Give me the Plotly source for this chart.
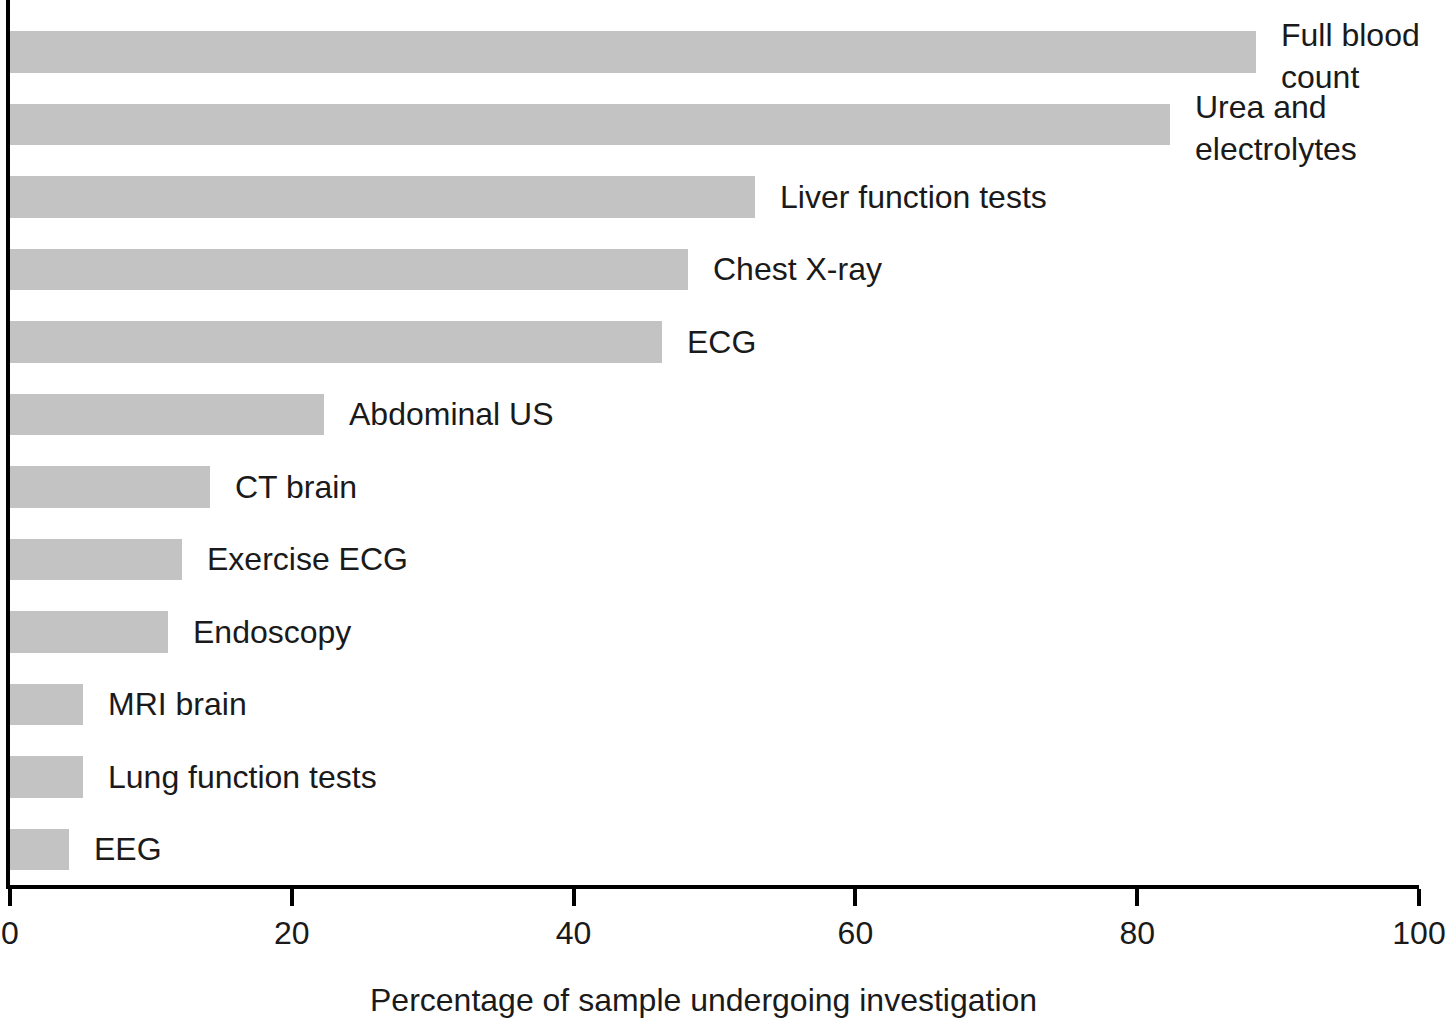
import plotly.graph_objects as go

# Data (bottom to top)
categories = ["EEG", "Lung function tests", "MRI brain", "Endoscopy", "Exercise ECG",
              "CT brain", "Abdominal US", "ECG", "Chest X-ray", "Liver function tests",
              "Urea and electrolytes", "Full blood count"]
labels = ["EEG", "Lung function tests", "MRI brain", "Endoscopy", "Exercise ECG",
          "CT brain", "Abdominal US", "ECG", "Chest X-ray", "Liver function tests",
          "Urea and<br>electrolytes", "Full blood<br>count"]
values = [4.2, 5.2, 5.2, 11.2, 12.2, 14.2, 22.3, 46.3, 48.1, 52.9, 82.3, 88.4]
x_ticks = [0, 20, 40, 60, 80, 100]
x_title = "Percentage of sample undergoing investigation"

FONT = "Liberation Sans, Arial, Helvetica, sans-serif"
FS = 32

fig = go.Figure()
fig.add_trace(go.Bar(
    x=values, y=categories, orientation="h",
    marker=dict(color="#c3c3c3", line=dict(width=0)),
    width=0.57, hoverinfo="x+y",
))

annotations = []
for c, v, lab in zip(categories, values, labels):
    multi = "<br>" in lab
    annotations.append(dict(
        x=v, y=c, xref="x", yref="y", text=lab, showarrow=False,
        xanchor="left", yanchor="middle", xshift=23, yshift=-4 if multi else 0,
        align="left",
        font=dict(family=FONT, size=FS, color="#1a1a1a"),
    ))
annotations.append(dict(
    x=49.2, y=-0.13, xref="x", yref="paper", text=x_title, showarrow=False,
    xanchor="center", yanchor="middle",
    font=dict(family=FONT, size=FS, color="#1a1a1a"),
))

fig.update_layout(
    width=1447, height=1019,
    margin=dict(l=10, r=28, t=0, b=134, pad=0),
    paper_bgcolor="white", plot_bgcolor="white",
    showlegend=False,
    bargap=0,
    annotations=annotations,
    font=dict(family=FONT, size=FS, color="#1a1a1a"),
    xaxis=dict(
        range=[0, 100], tickvals=x_ticks, ticktext=[str(t) for t in x_ticks],
        showline=True, linewidth=4, linecolor="black",
        ticks="outside", ticklen=17, tickwidth=4, tickcolor="black",
        showgrid=False, zeroline=False,
        tickfont=dict(family=FONT, size=FS, color="#1a1a1a"),
        fixedrange=True,
    ),
    yaxis=dict(
        type="category", categoryorder="array", categoryarray=categories,
        range=[-0.49, 11.717],
        showline=True, linewidth=4, linecolor="black",
        showticklabels=False, ticks="", showgrid=False, zeroline=False,
        fixedrange=True,
    ),
)

fig.write_html(
    "out.html",
    config={"displayModeBar": False},
    post_script="document.body.style.margin='0';document.body.style.overflow='hidden';",
)
